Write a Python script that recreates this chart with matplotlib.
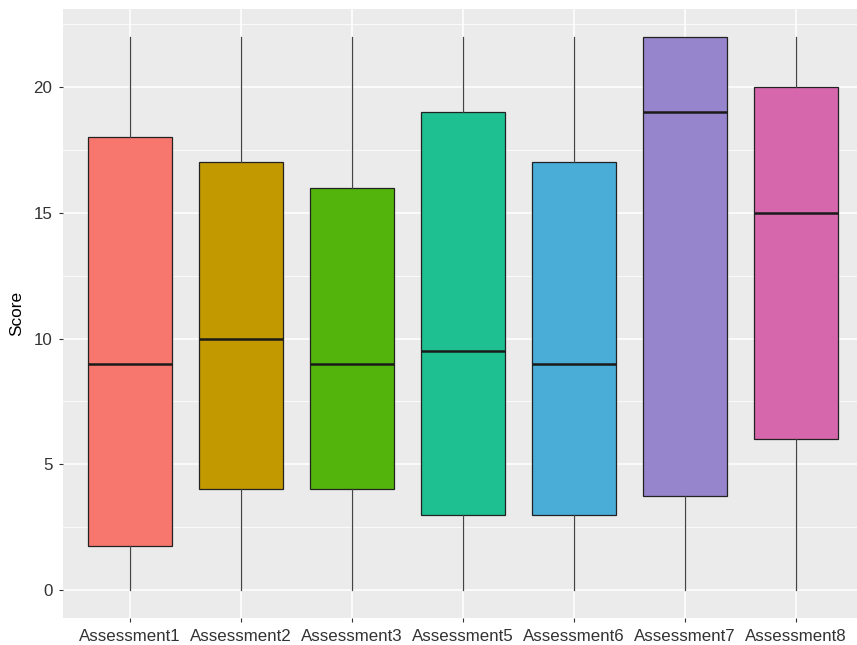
import numpy as np
import matplotlib.pyplot as plt
from matplotlib.ticker import MultipleLocator

categories = ["Assessment1", "Assessment2", "Assessment3", "Assessment5",
              "Assessment6", "Assessment7", "Assessment8"]
whislo = [0, 0, 0, 0, 0, 0, 0]
q1 = [1.75, 4, 4, 3, 3, 3.75, 6]
med = [9, 10, 9, 9.5, 9, 19, 15]
q3 = [18, 17, 16, 19, 17, 22, 20]
whishi = [22, 22, 22, 22, 22, 22, 22]
colors = ["#F7776E", "#C29A00", "#53B40B", "#1EBF91", "#49ADD8", "#9684CD", "#D667AD"]

plt.rcParams['font.family'] = ['Liberation Sans', 'DejaVu Sans']

fig = plt.figure(figsize=(8.57, 6.45), dpi=100)
W, H = 857, 645
ax = fig.add_axes([63.4 / W, (H - 617.7) / H, 799.2 / W, 608.7 / H])
ax.set_facecolor("#EBEBEB")

stats = []
for i, c in enumerate(categories):
    stats.append(dict(label=c, whislo=whislo[i], q1=q1[i], med=med[i],
                      q3=q3[i], whishi=whishi[i], fliers=[]))

pos = np.arange(1, len(categories) + 1)
bp = ax.bxp(stats, positions=pos, widths=0.75, patch_artist=True,
            showcaps=False, showfliers=False,
            boxprops=dict(edgecolor="#222222", linewidth=0.9),
            whiskerprops=dict(color="#444444", linewidth=0.9),
            medianprops=dict(color="#1a1a1a", linewidth=1.8),
            zorder=3)
for patch, col in zip(bp['boxes'], colors):
    patch.set_facecolor(col)

ax.set_xlim(0.4, 7.6)
ax.set_ylim(-1.1, 23.1)
ax.yaxis.set_major_locator(MultipleLocator(5))
ax.yaxis.set_minor_locator(MultipleLocator(2.5))
ax.set_xticks(pos)
ax.set_xticklabels(categories)

ax.grid(which='major', color='white', linewidth=1.1, zorder=0)
ax.grid(which='minor', axis='y', color='white', linewidth=0.55, zorder=0)
ax.set_axisbelow(True)
for s in ax.spines.values():
    s.set_visible(False)

ax.tick_params(which='major', length=3, width=0.8, color="#333333",
               labelsize=12.2, labelcolor="#333333")
ax.tick_params(axis='x', pad=5)
ax.tick_params(axis='y', pad=5)
ax.tick_params(which='minor', length=0)
ax.set_ylabel("Score", fontsize=12.4, color="black", labelpad=6.5)

fig.savefig("out.png", dpi=100)
